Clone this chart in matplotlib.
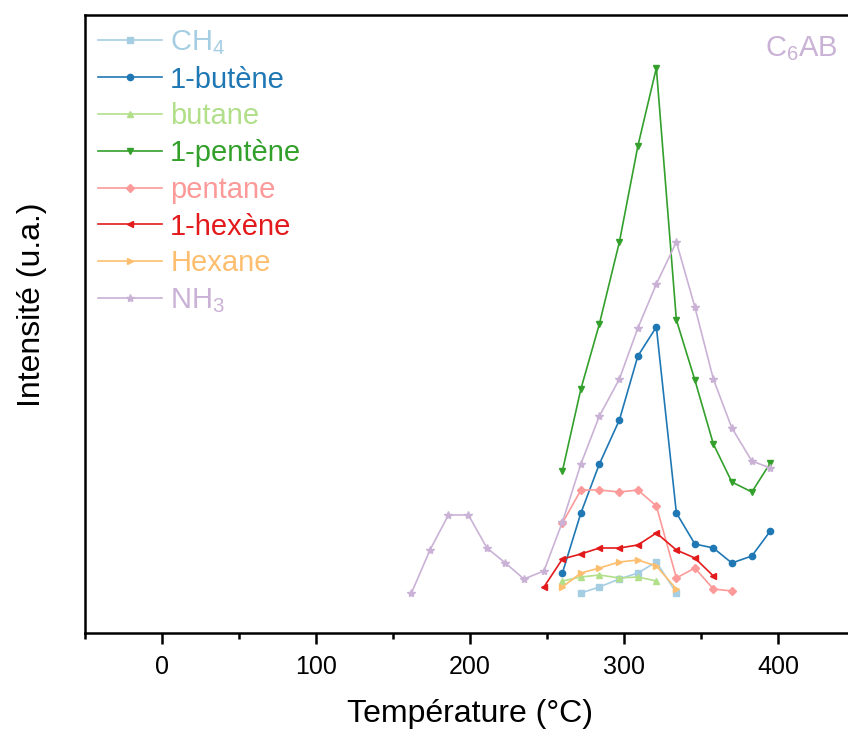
import matplotlib
matplotlib.use("Agg")
import matplotlib.pyplot as plt
from matplotlib.ticker import MultipleLocator

plt.rcParams['font.family'] = ['Liberation Sans', 'DejaVu Sans']
plt.rcParams['mathtext.fontset'] = 'custom'
plt.rcParams['mathtext.rm'] = 'Liberation Sans'
plt.rcParams['mathtext.it'] = 'Liberation Sans'

# Temperatures (°C) and intensities (u.a.)
t_nh3 = [162, 174, 186, 199, 211, 223, 235, 248, 260, 272, 284, 297, 309, 321, 334, 346, 358, 370, 383, 395]
nh3 = [40, 83, 118, 118, 85, 70, 54, 62, 111, 169, 217, 254, 305, 349, 391, 326, 254, 205, 172, 165]

t_long = [260, 272, 284, 297, 309, 321, 334, 346, 358, 370, 383, 395]
pentene = [162, 244, 309, 391, 487, 565, 313, 253, 189, 151, 141, 170]
butene = [60, 120, 169, 213, 277, 306, 120, 89, 85, 70, 77, 102]

t_pentane = [260, 272, 284, 297, 309, 321, 334, 346, 358, 370]
pentane = [110, 143, 143, 141, 143, 127, 55, 65, 44, 42]

t_hexene = [248, 260, 272, 284, 297, 309, 321, 334, 346, 358]
hexene = [46, 74, 79, 85, 85, 88, 100, 83, 75, 57]

t_hexane = [260, 272, 284, 297, 309, 321, 334]
hexane = [46, 60, 65, 71, 73, 67, 44]

t_butane = [260, 272, 284, 297, 309, 321]
butane = [52, 56, 58, 55, 56, 52]

t_ch4 = [272, 284, 297, 309, 321, 334]
ch4 = [40, 46, 54, 60, 71, 40]

series = [
    ("CH$_4$", t_ch4, ch4, "#a6cee3", "s"),
    ("1-butène", t_long, butene, "#1f78b4", "o"),
    ("butane", t_butane, butane, "#b2df8a", "^"),
    ("1-pentène", t_long, pentene, "#33a02c", "v"),
    ("pentane", t_pentane, pentane, "#fb9a99", "D"),
    ("1-hexène", t_hexene, hexene, "#e31a1c", "<"),
    ("Hexane", t_hexane, hexane, "#fdbf6f", ">"),
    ("NH$_3$", t_nh3, nh3, "#cab2d6", "*"),
]

fig = plt.figure(figsize=(8.48, 7.34), dpi=100)
ax = fig.add_axes([0.1002, 0.1376, 0.9081, 0.842])

for label, t, y, color, marker in series:
    ms = 6 if marker == "*" else 4.5
    if marker == "D":
        ms = 3.8
    ax.plot(t, y, color=color, marker=marker, markersize=ms, lw=1.2, label=label)

ax.set_xlim(-50, 450)
ax.set_ylim(0, 618)
ax.xaxis.set_major_locator(MultipleLocator(100))
ax.xaxis.set_minor_locator(MultipleLocator(50))
ax.tick_params(axis='x', which='major', direction='out', length=8, width=1.8, labelsize=18, pad=8)
ax.tick_params(axis='x', which='minor', direction='out', length=4, width=1.8)
ax.set_yticks([])
for side in ax.spines.values():
    side.set_linewidth(1.8)

ax.set_xlabel("Température (°C)", fontsize=23, labelpad=14)
ax.set_ylabel("Intensité (u.a.)", fontsize=23, labelpad=27)
ax.yaxis.label.set_y(0.531)

leg = ax.legend(loc='upper left', frameon=False, fontsize=21, handlelength=2.2,
                handletextpad=0.27, labelspacing=0.30, borderaxespad=0.0, borderpad=0.45,
                numpoints=1)
for text, line in zip(leg.get_texts(), leg.get_lines()):
    text.set_color(line.get_color())

ax.text(0.978, 0.945, "C$_6$AB", transform=ax.transAxes, fontsize=21, color="#cab2d6",
        ha='right', va='center')

fig.savefig("out.png", dpi=100)
